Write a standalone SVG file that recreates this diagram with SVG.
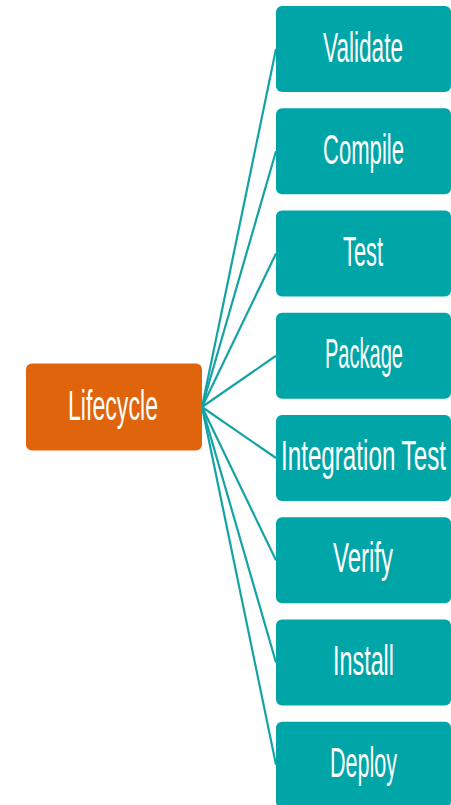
<svg xmlns="http://www.w3.org/2000/svg" width="451" height="805" viewBox="0 0 451 805">
<style>
.step rect{fill:#00A5A8}
.root rect{fill:#E0640C}
text{font-family:"Liberation Sans Narrow","Liberation Sans",Arial,sans-serif;font-size:42px;fill:#ffffff;text-anchor:middle}
#connectors line{stroke:#14A3A5;stroke-width:2.2;fill:none}
</style>
<rect width="451" height="805" fill="#ffffff"/>
<g id="connectors">
<line x1="202" y1="407" x2="276" y2="49"/>
<line x1="202" y1="407" x2="276" y2="151.25"/>
<line x1="202" y1="407" x2="276" y2="253.5"/>
<line x1="202" y1="407" x2="276" y2="355.75"/>
<line x1="202" y1="407" x2="276" y2="458"/>
<line x1="202" y1="407" x2="276" y2="560.25"/>
<line x1="202" y1="407" x2="276" y2="662.5"/>
<line x1="202" y1="407" x2="276" y2="764.75"/>
</g>
<g id="lifecycle" class="root">
<rect x="26" y="363.5" width="176" height="87" rx="6"/>
<text x="113" y="420" textLength="90" lengthAdjust="spacingAndGlyphs">Lifecycle</text>
</g>
<g id="validate" class="step">
<rect x="276" y="6" width="175" height="86" rx="6"/>
<text x="363" y="62" textLength="80" lengthAdjust="spacingAndGlyphs">Validate</text>
</g>
<g id="compile" class="step">
<rect x="276" y="108.25" width="175" height="86" rx="6"/>
<text x="363.5" y="163.5" textLength="81" lengthAdjust="spacingAndGlyphs">Compile</text>
</g>
<g id="test" class="step">
<rect x="276" y="210.5" width="175" height="86" rx="6"/>
<text x="363" y="265.5" textLength="40" lengthAdjust="spacingAndGlyphs">Test</text>
</g>
<g id="package" class="step">
<rect x="276" y="312.75" width="175" height="86" rx="6"/>
<text x="364" y="367.5" textLength="78" lengthAdjust="spacingAndGlyphs">Package</text>
</g>
<g id="integration-test" class="step">
<rect x="276" y="415" width="175" height="86" rx="6"/>
<text x="363.5" y="470" textLength="165" lengthAdjust="spacingAndGlyphs">Integration Test</text>
</g>
<g id="verify" class="step">
<rect x="276" y="517.25" width="175" height="86" rx="6"/>
<text x="363" y="572" textLength="60" lengthAdjust="spacingAndGlyphs">Verify</text>
</g>
<g id="install" class="step">
<rect x="276" y="619.5" width="175" height="86" rx="6"/>
<text x="363.5" y="674.5" textLength="61" lengthAdjust="spacingAndGlyphs">Install</text>
</g>
<g id="deploy" class="step">
<rect x="276" y="721.75" width="175" height="86" rx="6"/>
<text x="363.5" y="777" textLength="67" lengthAdjust="spacingAndGlyphs">Deploy</text>
</g>
</svg>
